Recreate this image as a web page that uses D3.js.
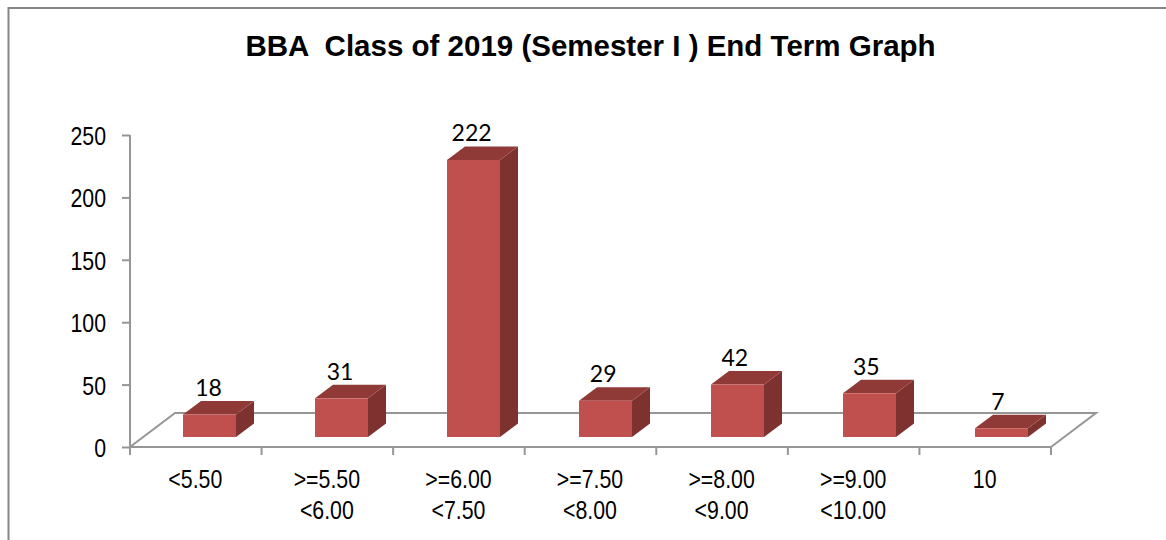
<!DOCTYPE html>
<html><head><meta charset="utf-8">
<script src="https://cdn.jsdelivr.net/npm/d3@7"></script>
<style>html,body{margin:0;padding:0;background:#fff;overflow:hidden}svg{display:block}</style>
</head><body><svg id="c" width="1166" height="540"></svg>
<script>
const titleText = "BBA  Class of 2019 (Semester I ) End Term Graph";
const categories = ["<5.50", ">=5.50|<6.00", ">=6.00|<7.50", ">=7.50|<8.00", ">=8.00|<9.00", ">=9.00|<10.00", "10"];
const counts = [18, 31, 222, 29, 42, 35, 7];
const yTicks = [0, 50, 100, 150, 200, 250];

const svg = d3.select("#c");
const x = d3.scaleBand().domain(categories).range([130, 1051]);
const xBars = d3.scaleBand().domain(categories).range([130, 1054]);
const y = d3.scaleLinear().domain([0, 250]).range([447, 135]);
const floorDx = 45, floorDy = -34, barW = 53, depthX = 18, depthY = -13.5, barShiftX = 13.5, barShiftY = -10, labelShiftX = 12.7;
const grey = "#969696";

svg.append("path").attr("d", "M8.5,540V8H1166").attr("fill", "none").attr("stroke", "#868686").attr("stroke-width", 2);

svg.append("text").attr("x", 590.5).attr("y", 56).attr("text-anchor", "middle")
  .attr("font-family", "'Liberation Sans'").attr("font-weight", "bold").attr("font-size", 29.5)
  .style("white-space", "pre").attr("fill", "#000").text(titleText);

// floor
svg.append("path").attr("fill", "none").attr("stroke", grey).attr("stroke-width", 2)
  .attr("d", `M${x.range()[0]},${y(0)}L${x.range()[0] + floorDx},${y(0) + floorDy}H${x.range()[1] + floorDx}L${x.range()[1]},${y(0)}`);

// axes
const gy = svg.append("g").attr("transform", "translate(130,0)")
  .call(d3.axisLeft(y).tickValues(yTicks).tickSize(8).tickPadding(11));
const gx = svg.append("g").attr("transform", `translate(0,${y(0)})`)
  .call(d3.axisBottom(x).tickSize(0).tickFormat(""));
gx.selectAll(".tick").remove();
const edges = categories.map(c => x(c)).concat([x.range()[1]]);
gx.selectAll("line.t").data(edges).join("line").attr("class", "t")
  .attr("x1", d => d).attr("x2", d => d).attr("y1", 0).attr("y2", 8);
[gy, gx].forEach(g => {
  g.selectAll("path.domain").attr("stroke", grey).attr("stroke-width", 2);
  g.selectAll("line").attr("stroke", grey).attr("stroke-width", 2);
});
gx.selectAll("path.domain").attr("d", `M${x.range()[0]},0H${x.range()[1]}`);
gy.selectAll("path.domain").attr("d", `M0,${y(0)}V${y(250)}`);
gy.selectAll("text").remove();

const narrow = (g, px, py, s, anchor) => g.append("text").attr("transform", `translate(${px},${py}) scale(0.82,1)`)
  .attr("font-family", "'Liberation Sans'").attr("font-size", 26).attr("fill", "#000").attr("text-anchor", anchor).text(s);
const tickG = svg.append("g");
yTicks.forEach(t => narrow(tickG, 106, y(t) + 10, t, "end"));
const lab = svg.append("g");
categories.forEach(c => {
  c.split("|").forEach((s, i) => narrow(lab, x(c) + x.bandwidth() / 2 - 0.5, 488 + i * 31, s, "middle"));
});

// bars
const bars = svg.append("g").selectAll("g").data(categories.map((c, i) => ({c, v: counts[i]}))).join("g");
const bx = d => xBars(d.c) + xBars.bandwidth() / 2 - barW / 2 + barShiftX;
const by = d => y(d.v) + barShiftY;
const by0 = y(0) + barShiftY;
bars.append("path").attr("fill", "#7d3230")
  .attr("d", d => `M${bx(d) + barW},${by(d)}l${depthX},${depthY}V${by0 + depthY}L${bx(d) + barW},${by0}Z`);
bars.append("path").attr("fill", "#903a38")
  .attr("d", d => `M${bx(d)},${by(d)}l${depthX},${depthY}h${barW}l${-depthX},${-depthY}Z`);
bars.append("rect").attr("fill", "#c0504d")
  .attr("x", bx).attr("y", by).attr("width", barW).attr("height", d => by0 - by(d));
bars.append("text").attr("x", d => x(d.c) + x.bandwidth() / 2 + labelShiftX).attr("y", d => by(d) + depthY - 5)
  .attr("text-anchor", "middle").attr("font-family", "Lato").attr("font-size", 23).attr("fill", "#000").text(d => d.v);
</script></body></html>
